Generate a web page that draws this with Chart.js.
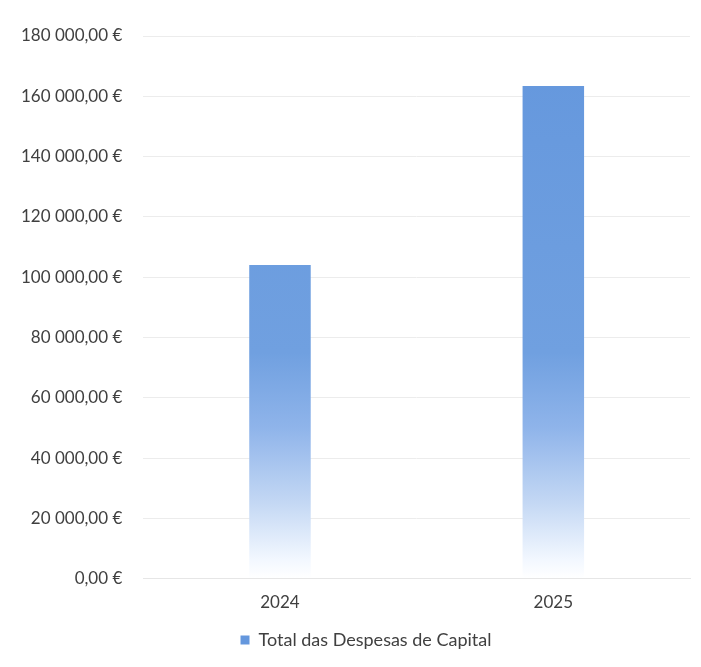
<!DOCTYPE html>
<html>
<head>
<meta charset="utf-8">
<script src="https://cdn.jsdelivr.net/npm/chart.js@4"></script>
<style>
  html, body { margin: 0; padding: 0; background: #ffffff; }
  #wrap { width: 701px; height: 667px; }
</style>
</head>
<body>
<div id="wrap"><canvas id="chart" width="701" height="667"></canvas></div>
<script>
// Dados do gráfico
const years = ['2024', '2025'];
const capitalExpenses = [104000, 163400];
const seriesName = 'Total das Despesas de Capital';

const barBlue = '#6497dd';

// formato "180 000,00 €"
function euro(v) {
    const parts = Number(v).toFixed(2).split('.');
    const int = parts[0].replace(/\B(?=(\d{3})+(?!\d))/g, ' ');
    return int + ',' + parts[1] + ' €';
}

// gradiente do branco (base) para azul (topo), como no Excel
function barGradient(context) {
    const chart = context.chart;
    const area = chart.chartArea;
    if (!area) return barBlue;
    const y = chart.scales.y;
    const total = area.bottom - area.top;
    const stop = v => (area.bottom - y.getPixelForValue(v)) / total;
    const g = chart.ctx.createLinearGradient(0, area.bottom, 0, area.top);
    g.addColorStop(0, '#ffffff');
    g.addColorStop(stop(6000), '#f3f8ff');
    g.addColorStop(stop(25000), '#c4d8f4');
    g.addColorStop(stop(50000), '#8fb4ea');
    g.addColorStop(stop(75000), '#70a0e0');
    g.addColorStop(1, barBlue);
    return g;
}

// legenda um pouco deslocada para a direita, como no original
const shiftLegend = {
    id: 'shiftLegend',
    afterLayout(chart) {
        chart.legend.left += 21;
        chart.legend.right += 21;
    }
};

const ctx = document.getElementById('chart').getContext('2d');
new Chart(ctx, {
    type: 'bar',
    data: {
        labels: years,
        datasets: [{
            label: seriesName,
            data: capitalExpenses,
            backgroundColor: barGradient,
            borderWidth: 0,
            categoryPercentage: 0.45,
            barPercentage: 0.5
        }]
    },
    plugins: [shiftLegend],
    options: {
        responsive: false,
        animation: false,
        layout: { padding: { left: 0, right: 11, top: 36, bottom: 8 } },
        plugins: {
            legend: {
                position: 'bottom',
                labels: {
                    boxWidth: 9,
                    boxHeight: 9,
                    padding: 12,
                    color: '#404040',
                    font: { family: 'Lato', size: 18 },
                    generateLabels: () => [{
                        text: seriesName,
                        fillStyle: barBlue,
                        strokeStyle: barBlue,
                        lineWidth: 0,
                        fontColor: '#404040'
                    }]
                }
            },
            tooltip: { enabled: false }
        },
        scales: {
            x: {
                grid: { display: false },
                border: { display: true, color: '#e6e6e6' },
                ticks: {
                    color: '#404040',
                    font: { family: 'Lato', size: 17 },
                    padding: 6
                }
            },
            y: {
                min: 0,
                max: 180000,
                grid: { color: '#ececec', drawTicks: false },
                border: { display: false },
                ticks: {
                    stepSize: 20000,
                    color: '#404040',
                    font: { family: 'Lato', size: 17 },
                    padding: 21,
                    callback: v => euro(v)
                }
            }
        }
    }
});
</script>
</body>
</html>
